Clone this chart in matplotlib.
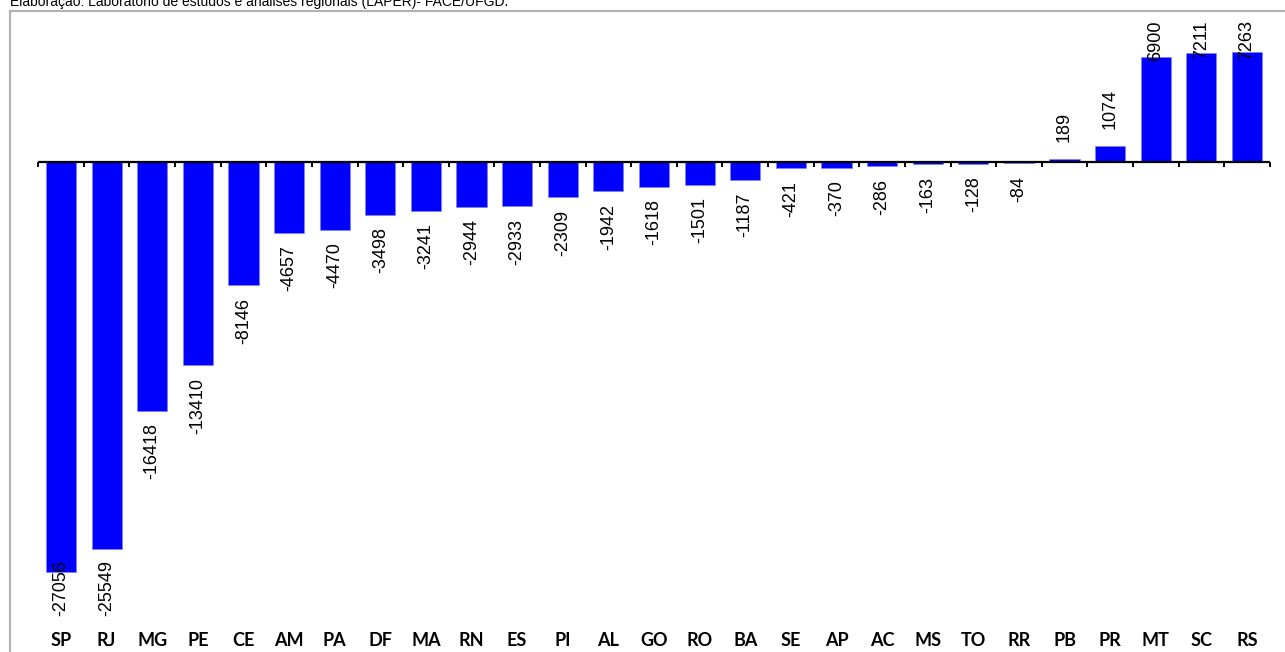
import numpy as np
import matplotlib
matplotlib.use("Agg")
import matplotlib.pyplot as plt

# dados (saldo por UF)
estados = ["SP", "RJ", "MG", "PE", "CE", "AM", "PA", "DF", "MA", "RN", "ES", "PI", "AL",
           "GO", "RO", "BA", "SE", "AP", "AC", "MS", "TO", "RR", "PB", "PR", "MT", "SC", "RS"]
saldo = [-27056, -25549, -16418, -13410, -8146, -4657, -4470, -3498, -3241, -2944, -2933,
         -2309, -1942, -1618, -1501, -1187, -421, -370, -286, -163, -128, -84, 189, 1074,
         6900, 7211, 7263]
fonte = "Elaboração: Laboratório de estudos e análises regionais (LAPER)- FACE/UFGD."

W, H = 1285, 652
fig = plt.figure(figsize=(W / 100, H / 100), dpi=100)
ax = fig.add_axes([0, 0, 1, 1])
ax.axis("off")

n = len(estados)
x = np.arange(n)
passo = (1247 - 61) / (n - 1)      # px por categoria
esc = 0.01515                      # px por unidade
ax.set_xlim(-61 / passo, (W - 61) / passo)
ax.set_ylim(-(H - 162) / esc, 162 / esc)

ax.bar(x, saldo, width=0.66, color="#0000ff", edgecolor="#8080ff", linewidth=0.4, zorder=2)

# linha do eixo e marcas
ax.plot([-0.5, n - 0.5], [0, 0], color="black", lw=1.6, zorder=3, solid_capstyle="butt")
ax.vlines(np.arange(n + 1) - 0.5, -5 / esc, 0, color="black", lw=1.4, zorder=3)

# rótulos das categorias
for xi, uf in zip(x, estados):
    ax.text(xi, -(641 - 162) / esc, uf, ha="center", va="center",
            fontsize=13, fontweight="bold", family="Lato")

# rótulos de valores
rotulos = []
for xi, v in zip(x, saldo):
    if v >= 0:
        t = ax.annotate(str(v), (xi, v), xytext=(0, 12), textcoords="offset points",
                        rotation=90, ha="center", va="bottom", fontsize=13,
                        family="Liberation Sans", zorder=4)
    else:
        t = ax.annotate(str(v), (xi, v), xytext=(0, -9), textcoords="offset points",
                        rotation=90, ha="center", va="top", fontsize=13,
                        family="Liberation Sans", zorder=4)
    rotulos.append((t, xi, v))

# mantém os rótulos dentro da área do gráfico
fig.canvas.draw()
r = fig.canvas.get_renderer()
topo, base = (162 - 20) / esc, -(616 - 162) / esc
for t, xi, v in rotulos:
    bb = t.get_window_extent(r)
    if bb.y1 > H - 20:
        t.xy = (xi, topo)
        t.set_position((0, 0))
        t.set_va("top")
    elif bb.y0 < H - 616:
        t.xy = (xi, base)
        t.set_position((0, 0))
        t.set_va("bottom")

# moldura cinza
tr = fig.transFigure
fig.add_artist(plt.Line2D([10 / W, 1], [1 - 11 / H, 1 - 11 / H], transform=tr,
                          color="#b0b0b0", lw=1.5))
fig.add_artist(plt.Line2D([10 / W, 10 / W], [0, 1 - 11 / H], transform=tr,
                          color="#b0b0b0", lw=1.5))

fig.text(10 / W, 1 - 6 / H, fonte, ha="left", va="baseline", fontsize=10,
         family="Liberation Sans")

fig.savefig("out.png", dpi=100)
